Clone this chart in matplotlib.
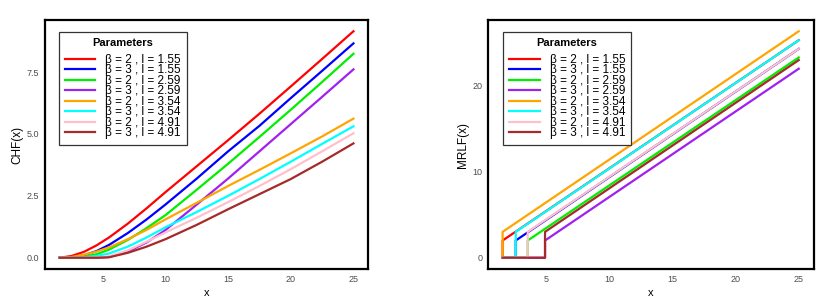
import numpy as np
import matplotlib
matplotlib.use('Agg')
import matplotlib.pyplot as plt

plt.rcParams['font.family'] = ['Liberation Sans', 'DejaVu Sans']

# legend labels and colours (same order in both panels)
labels = ['β = 2 , l = 1.55', 'β = 3 , l = 1.55', 'β = 2 , l = 2.59', 'β = 3 , l = 2.59',
          'β = 2 , l = 3.54', 'β = 3 , l = 3.54', 'β = 2 , l = 4.91', 'β = 3 , l = 4.91']
colors = ['#FF0000', '#0000FF', '#00EE00', '#A020F0', '#FFA500', '#00FFFF', '#FFC0CB', '#A52A2A']

# CHF curves, values
chf_x = [1.55, 2.5, 3.5, 4.5, 5.5, 7, 8.5, 10, 12.5, 15, 17.5, 20, 22.5, 25]
chf_red = [0, 0.07, 0.24, 0.50, 0.82, 1.38, 2.00, 2.65, 3.70, 4.75, 5.82, 6.92, 8.03, 9.15]
chf_blue = [0, 0.02, 0.10, 0.27, 0.52, 1.00, 1.55, 2.15, 3.20, 4.30, 5.33, 6.45, 7.55, 8.66]
chf_green = [0, 0.00, 0.04, 0.14, 0.33, 0.72, 1.20, 1.72, 2.75, 3.80, 4.88, 5.98, 7.10, 8.24]
chf_purple = [0, 0, 0, 0, 0.03, 0.25, 0.62, 1.12, 2.15, 3.20, 4.30, 5.40, 6.50, 7.61]
chf_orange = [0, 0.03, 0.12, 0.25, 0.42, 0.75, 1.13, 1.55, 2.22, 2.90, 3.55, 4.22, 4.90, 5.62]
chf_cyan = [0, 0, 0.02, 0.07, 0.17, 0.45, 0.82, 1.23, 1.85, 2.50, 3.18, 3.88, 4.60, 5.31]
chf_pink = [0, 0, 0, 0.01, 0.06, 0.30, 0.65, 1.02, 1.62, 2.25, 2.90, 3.58, 4.30, 5.03]
chf_brown = [0, 0, 0, 0, 0.02, 0.20, 0.45, 0.75, 1.33, 1.96, 2.57, 3.18, 3.88, 4.62]
chf_all = [chf_red, chf_blue, chf_green, chf_purple, chf_orange, chf_cyan, chf_pink, chf_brown]

# MRLF: zero until the jump point, then a straight line up to x = 25
mrl_x0 = 1.55
mrl_jump = [1.55, 2.59, 3.54, 4.91, 1.55, 2.59, 3.54, 4.91]
mrl_start = [2.0, 2.0, 2.0, 2.0, 3.0, 3.0, 3.0, 3.0]
mrl_end = [25.2, 24.2, 23.2, 21.9, 26.24, 25.2, 24.2, 22.9]
mrl_xend = 25


def style_axes(ax, ylabel):
    for s in ax.spines.values():
        s.set_linewidth(1.6)
        s.set_color('black')
    ax.tick_params(length=0, labelsize=6.5, labelcolor='#4D4D4D', pad=4)
    ax.set_xlabel('x', fontsize=8, labelpad=3)
    ax.set_ylabel(ylabel, fontsize=8.5, labelpad=2.5)
    ax.set_xticks([5, 10, 15, 20, 25])
    ax.margins(0.05)


def add_legend(ax, xa):
    leg = ax.legend(loc='upper left', bbox_to_anchor=(xa, 0.95), borderaxespad=0,
                    title='Parameters', title_fontproperties={'weight': 'bold', 'size': 8},
                    fontsize=8.5, labelspacing=-0.13, handlelength=2.6, handletextpad=0.85,
                    fancybox=False, edgecolor='#333333', framealpha=1, borderpad=0.5)
    leg.get_frame().set_linewidth(0.9)
    # a bit more room between title and entries
    leg._legend_box.sep = 4


fig = plt.figure(figsize=(8.31, 3.02), dpi=100)

ax1 = fig.add_axes([0.054, 0.109, 0.389, 0.825])
for y, c, lab in zip(chf_all, colors, labels):
    ax1.plot(chf_x, y, color=c, lw=1.6, label=lab)
style_axes(ax1, 'CHF(x)')
ax1.set_yticks([0, 2.5, 5, 7.5])
ax1.set_yticklabels(['0.0', '2.5', '5.0', '7.5'])
add_legend(ax1, 0.043)

ax2 = fig.add_axes([0.587, 0.109, 0.392, 0.825])
for j, v0, v1, c, lab in zip(mrl_jump, mrl_start, mrl_end, colors, labels):
    ax2.plot([mrl_x0, j, j, mrl_xend], [0, 0, v0, v1], color=c, lw=1.6, label=lab)
style_axes(ax2, 'MRLF(x)')
ax2.set_yticks([0, 10, 20])
add_legend(ax2, 0.047)

fig.savefig('out.png', dpi=100)
